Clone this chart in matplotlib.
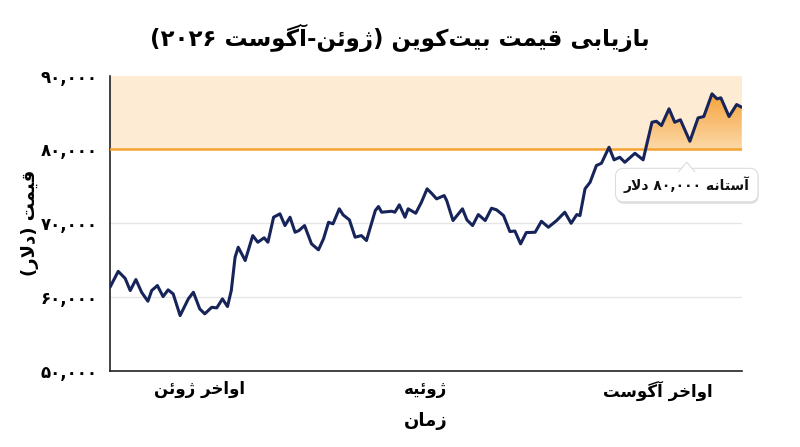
import numpy as np
import matplotlib
matplotlib.use('Agg')
import matplotlib.pyplot as plt
import matplotlib.patheffects as pe
from matplotlib.colors import LinearSegmentedColormap
from matplotlib.patches import Polygon

# timeline position (0 = start, 100 = end of the period) and price in USD
t = [0, 1.3, 2.4, 3.2, 4.1, 5.0, 6.0, 6.6, 7.5, 8.4, 9.2, 10.0, 11.1, 12.4, 13.2,
     14.2, 15.0, 16.1, 16.9, 17.8, 18.6, 19.2, 19.8, 20.3, 21.4, 22.6, 23.4, 24.4,
     25.0, 25.9, 26.9, 27.7, 28.5, 29.3, 29.9, 30.8, 31.9, 33.0, 33.8, 34.6, 35.3,
     36.3, 36.9, 37.9, 38.8, 39.8, 40.6, 42.0, 42.5, 43.0, 44.6, 45.1, 45.8, 46.7,
     47.2, 48.4, 49.3, 50.2, 50.9, 51.7, 52.9, 53.3, 54.3, 55.8, 56.5, 57.4, 58.3,
     59.4, 60.4, 61.2, 62.3, 63.3, 64.1, 65.0, 65.9, 67.3, 68.3, 69.4, 70.7, 72.0,
     73.0, 73.9, 74.4, 75.2, 76.0, 77.0, 77.8, 79.0, 79.8, 80.7, 81.5, 83.1, 84.4,
     85.8, 86.5, 87.3, 88.5, 89.4, 90.3, 91.8, 93.1, 94.0, 95.3, 96.1, 96.7, 98.0,
     99.2, 100]
price = [61300, 63450, 62500, 60850, 62340, 60620, 59400, 60850, 61530, 60030,
         60940, 60400, 57460, 59720, 60620, 58370, 57690, 58580, 58500, 59720,
         58680, 60850, 65360, 66720, 64920, 68300, 67400, 68000, 67400, 70790,
         71250, 69660, 70790, 68750, 68980, 69660, 67180, 66370, 67860, 70110,
         69890, 71930, 71110, 70430, 68080, 68300, 67630, 71700, 72240, 71470,
         71600, 71470, 72470, 70790, 71930, 71330, 72820, 74640, 74040, 73280,
         73730, 73050, 70340, 71930, 70430, 69660, 71150, 70340, 72010, 71790,
         71020, 68850, 68920, 67180, 68710, 68750, 70240, 69430, 70340, 71470,
         69970, 71150, 71020, 74640, 75530, 77800, 78110, 80280, 78570, 78920,
         78240, 79460, 78570, 83670, 83800, 83220, 85490, 83670, 84000, 81090,
         84260, 84440, 87520, 86840, 86980, 84440, 86070, 85700]

threshold = 80000
y_ticks = [50000, 60000, 70000, 80000, 90000]
x_tick_pos = [14.1, 49.9, 86.8]
x_tick_labels = ['اواخر ژوئن', 'ژوئیه', 'اواخر آگوست']
title = 'بازیابی قیمت بیت\u200cکوین (ژوئن-آگوست ۲۰۲۶)'
y_label = 'قیمت (دلار)'
x_label = 'زمان'
note = 'آستانه ۸۰,۰۰۰ دلار'

# --- tiny persian shaper (matplotlib has no arabic shaping / bidi) ---
FORMS = {
    '\u0622': ('\uFE81', '\uFE82', None, None),
    '\u0626': ('\uFE89', '\uFE8A', '\uFE8B', '\uFE8C'),
    '\u0627': ('\uFE8D', '\uFE8E', None, None),
    '\u0628': ('\uFE8F', '\uFE90', '\uFE91', '\uFE92'),
    '\u062A': ('\uFE95', '\uFE96', '\uFE97', '\uFE98'),
    '\u062E': ('\uFEA5', '\uFEA6', '\uFEA7', '\uFEA8'),
    '\u062F': ('\uFEA9', '\uFEAA', None, None),
    '\u0631': ('\uFEAD', '\uFEAE', None, None),
    '\u0632': ('\uFEAF', '\uFEB0', None, None),
    '\u0698': ('\uFB8A', '\uFB8B', None, None),
    '\u0633': ('\uFEB1', '\uFEB2', '\uFEB3', '\uFEB4'),
    '\u0642': ('\uFED5', '\uFED6', '\uFED7', '\uFED8'),
    '\u06A9': ('\uFB8E', '\uFB8F', '\uFB90', '\uFB91'),
    '\u06AF': ('\uFB92', '\uFB93', '\uFB94', '\uFB95'),
    '\u0644': ('\uFEDD', '\uFEDE', '\uFEDF', '\uFEE0'),
    '\u0645': ('\uFEE1', '\uFEE2', '\uFEE3', '\uFEE4'),
    '\u0646': ('\uFEE5', '\uFEE6', '\uFEE7', '\uFEE8'),
    '\u0647': ('\uFEE9', '\uFEEA', '\uFEEB', '\uFEEC'),
    '\u0648': ('\uFEED', '\uFEEE', None, None),
    '\u06CC': ('\uFBFC', '\uFBFD', '\uFBFE', '\uFBFF'),
}
LAM_ALEF = {'\u0627': ('\uFEFB', '\uFEFC'), '\u0622': ('\uFEF5', '\uFEF6')}
FA_DIGITS = '۰۱۲۳۴۵۶۷۸۹'
MIRROR = str.maketrans('()', ')(')


def dual(c):
    return c in FORMS and FORMS[c][2] is not None


def fa(s):
    out = []
    i = 0
    while i < len(s):
        c = s[i]
        if c not in FORMS:
            if c != '\u200c':
                out.append(c)
            i += 1
            continue
        prev = s[i - 1] if i > 0 else ''
        nxt = s[i + 1] if i + 1 < len(s) else ''
        jp = dual(prev)
        if c == '\u0644' and nxt in LAM_ALEF:
            out.append(LAM_ALEF[nxt][1 if jp else 0])
            i += 2
            continue
        jn = dual(c) and nxt in FORMS
        iso, fin, ini, med = FORMS[c]
        if jp and jn:
            out.append(med)
        elif jp:
            out.append(fin)
        elif jn:
            out.append(ini)
        else:
            out.append(iso)
        i += 1
    # visual order: rtl runs reversed, number runs kept
    runs = []
    for c in out:
        is_num = c in FA_DIGITS or (c == ',' and runs and runs[-1][0])
        if runs and runs[-1][0] == is_num:
            runs[-1][1] += c
        else:
            runs.append([is_num, c])
    res = ''
    for is_num, txt in reversed(runs):
        res += txt if is_num else txt[::-1].translate(MIRROR)
    return res


def fa_num(v):
    return '{:,}'.format(v).translate(str.maketrans('0123456789', FA_DIGITS))


plt.rcParams['font.family'] = ['DejaVu Sans']

fig = plt.figure(figsize=(8, 4.47), dpi=100)
ax = fig.add_axes([0.1375, 0.171, 0.7896, 0.660])

x = np.array(t)
y = np.array(price)

ax.axhspan(threshold, 90000, color='#FDEBD4', zorder=0, lw=0)
ax.axhline(60000, color='#E6E6E6', lw=1, zorder=1)
ax.axhline(70000, color='#E6E6E6', lw=1, zorder=1)

# gradient fill between the line and the threshold
poly = ax.fill_between(x, threshold, np.maximum(y, threshold), facecolor='none', lw=0)
cmap = LinearSegmentedColormap.from_list('og', ['#FCD9A8', '#F59E33'])
grad = np.linspace(0, 1, 256).reshape(-1, 1)
im = ax.imshow(grad, extent=[x.min(), x.max(), threshold, 88000], origin='lower',
               aspect='auto', cmap=cmap, zorder=2)
im.set_clip_path(poly.get_paths()[0], transform=ax.transData)

ax.axhline(threshold, color='#F5A230', lw=1.8, zorder=3)
ax.plot(x, y, color='#16245A', lw=2.2, zorder=4, solid_joinstyle='round',
        solid_capstyle='round')

ax.set_xlim(0, 100)
ax.set_ylim(50000, 90000)
ax.set_yticks(y_ticks)
ax.set_yticklabels([fa_num(v) for v in y_ticks], fontsize=12, fontweight='bold')
ax.set_xticks(x_tick_pos)
ax.set_xticklabels([fa(s) for s in x_tick_labels], fontsize=12, fontweight='bold')
ax.tick_params(length=0)
ax.tick_params(axis='y', pad=9)
ax.tick_params(axis='x', pad=7)
for s in ['top', 'right']:
    ax.spines[s].set_visible(False)
for s in ['left', 'bottom']:
    ax.spines[s].set_linewidth(1.2)
    ax.spines[s].set_color('#222222')

ax.set_ylabel(fa(y_label), fontsize=13, fontweight='bold')
ax.yaxis.set_label_coords(-0.112, 0.5)
ax.set_xlabel(fa(x_label), fontsize=13, fontweight='bold', labelpad=8)
fig.text(0.5, 0.915, fa(title), ha='center', va='center', fontsize=16.5, fontweight='bold')

# callout box under the threshold line
bx, by = 91.3, 75150
note_txt = ax.text(bx, by, fa(note), ha='center', va='center', fontsize=10,
                   fontweight='bold', color='#111111', zorder=6, clip_on=False,
                   bbox=dict(boxstyle='round,pad=0.6,rounding_size=0.6', fc='white',
                             ec='#DDDDDD', lw=0.8))
note_txt.get_bbox_patch().set_path_effects(
    [pe.SimplePatchShadow(offset=(0.5, -1.5), shadow_rgbFace='#000000', alpha=0.12),
     pe.Normal()])
ax.add_patch(Polygon([[bx - 1.4, 76850], [bx, 78250], [bx + 1.4, 76850]], closed=True,
                     fc='white', ec='#DDDDDD', lw=0.8, zorder=7, clip_on=False))
ax.plot([bx - 1.3, bx + 1.3], [76800, 76800], color='white', lw=1.5, zorder=7,
        clip_on=False)

fig.savefig('out.png', dpi=100, facecolor='white')
